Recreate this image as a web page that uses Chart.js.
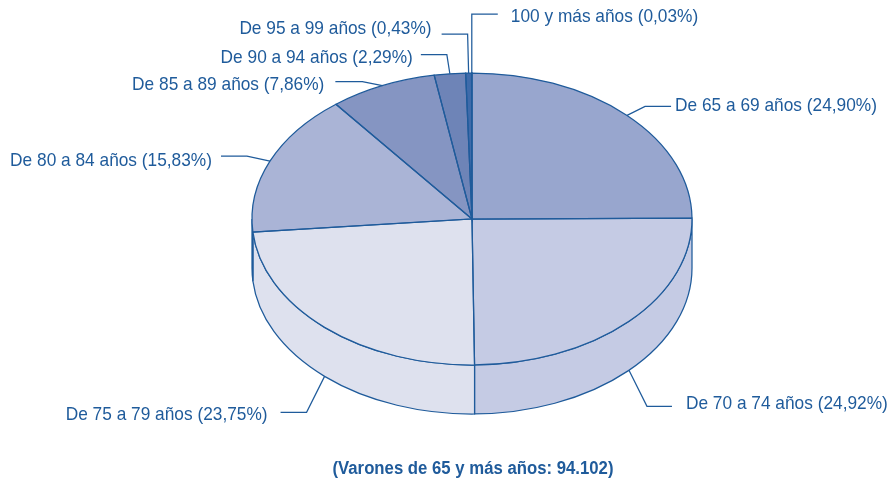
<!DOCTYPE html>
<html lang="es">
<head>
    <meta charset="UTF-8" />
    <title>Varones de 65 y más años</title>
    <script src="https://cdn.jsdelivr.net/npm/chart.js"></script>
    <style>
        html, body { margin: 0; padding: 0; background: #fff; }
        canvas { display: block; }
    </style>
</head>
<body>
    <canvas id="chart" width="891" height="480"></canvas>

    <script>
        const categories = ['De 65 a 69 años', 'De 70 a 74 años', 'De 75 a 79 años', 'De 80 a 84 años',
            'De 85 a 89 años', 'De 90 a 94 años', 'De 95 a 99 años', '100 y más años'];
        const shares = [24.90, 24.92, 23.75, 15.83, 7.86, 2.29, 0.43, 0.03];
        const colors = ['#98a6ce', '#c5cbe4', '#dee1ee', '#aab4d6', '#8595c2', '#6e84b7', '#3f6baa', '#1f5b9b'];
        const caption = '(Varones de 65 y más años: 94.102)';

        const INK = '#1f5b9b';
        const LINE = 1.25;
        // where the flattened pie sits on the page
        const PIE = { cx: 472, cy: 219, rx: 220, ry: 146, depth: 49 };
        // leader lines, relative to the rim point at the middle of each slice:
        // elbow dx, elbow dy, tail length (signed), gap to text, text dy
        const leaders = [
            [18, -9, 26, 4, -1],
            [18, 36, 25, 14, -3],
            [-18, 36, -26, 13, 2],
            [-23, -5, -26, 9, 5],
            [-20, -4, -27, 11, 3],
            [-3, -19, -26, 8, 3],
            [-1, -39, -26, 10, -5],
            [0, -59, 26, 13, 3]
        ];

        const pct = v => v.toFixed(2).replace('.', ',') + '%';

        // Arial in the original is condensed a bit, fillText's maxWidth does the same
        function squeezedText(ctx, text, x, y, squeeze) {
            ctx.fillText(text, x, y, ctx.measureText(text).width * squeeze);
        }

        const flatPie = {
            id: 'flatPie',
            beforeDatasetDraw(chart, args) {
                const ctx = chart.ctx;
                const arcs = args.meta.data;
                // side wall, only the front half of the cylinder shows
                arcs.forEach((arc, i) => {
                    const a0 = Math.max(arc.startAngle, 0);
                    const a1 = Math.min(arc.endAngle, Math.PI);
                    if (a1 <= a0) return;
                    ctx.beginPath();
                    ctx.ellipse(PIE.cx, PIE.cy, PIE.rx, PIE.ry, 0, a0, a1);
                    ctx.ellipse(PIE.cx, PIE.cy + PIE.depth, PIE.rx, PIE.ry, 0, a1, a0, true);
                    ctx.closePath();
                    ctx.fillStyle = colors[i];
                    ctx.fill();
                    ctx.lineWidth = LINE;
                    ctx.strokeStyle = INK;
                    ctx.stroke();
                });
                // squash the library's round pie into the ellipse
                const first = arcs[0];
                ctx.save();
                ctx.translate(PIE.cx, PIE.cy);
                ctx.scale(PIE.rx / first.outerRadius, PIE.ry / first.outerRadius);
                ctx.translate(-first.x, -first.y);
            },
            afterDatasetDraw(chart, args) {
                const ctx = chart.ctx;
                ctx.restore();
                args.meta.data.forEach((arc, i) => {
                    ctx.beginPath();
                    ctx.moveTo(PIE.cx, PIE.cy);
                    ctx.ellipse(PIE.cx, PIE.cy, PIE.rx, PIE.ry, 0, arc.startAngle, arc.endAngle);
                    ctx.closePath();
                    ctx.lineWidth = LINE;
                    ctx.strokeStyle = INK;
                    ctx.stroke();

                    const mid = (arc.startAngle + arc.endAngle) / 2;
                    const [ex, ey, tail, gap, ty] = leaders[i];
                    const rimX = PIE.cx + PIE.rx * Math.cos(mid);
                    let rimY = PIE.cy + PIE.ry * Math.sin(mid);
                    if (Math.sin(mid) > 0) rimY += PIE.depth;
                    const elbowX = rimX + ex;
                    const elbowY = rimY + ey;
                    const endX = elbowX + tail;
                    ctx.beginPath();
                    ctx.moveTo(rimX, rimY);
                    ctx.lineTo(elbowX, elbowY);
                    ctx.lineTo(endX, elbowY);
                    ctx.stroke();

                    ctx.font = '19px "Liberation Sans"';
                    ctx.fillStyle = INK;
                    ctx.textBaseline = 'middle';
                    ctx.textAlign = tail > 0 ? 'left' : 'right';
                    const text = categories[i] + ' (' + pct(shares[i]) + ')';
                    squeezedText(ctx, text, endX + (tail > 0 ? gap : -gap), elbowY + ty, 0.91);
                });

                ctx.font = 'bold 18px "Liberation Sans"';
                ctx.fillStyle = INK;
                ctx.textAlign = 'center';
                squeezedText(ctx, caption, 473, 469, 0.93);
            }
        };

        new Chart(document.getElementById('chart').getContext('2d'), {
            type: 'pie',
            data: {
                labels: categories,
                datasets: [{ data: shares, backgroundColor: colors, borderWidth: 0, clip: false }]
            },
            options: {
                responsive: false,
                animation: false,
                layout: { padding: { left: 55, bottom: 30 } },
                plugins: {
                    legend: { display: false },
                    tooltip: { enabled: false }
                }
            },
            plugins: [flatPie]
        });
    </script>
</body>
</html>
